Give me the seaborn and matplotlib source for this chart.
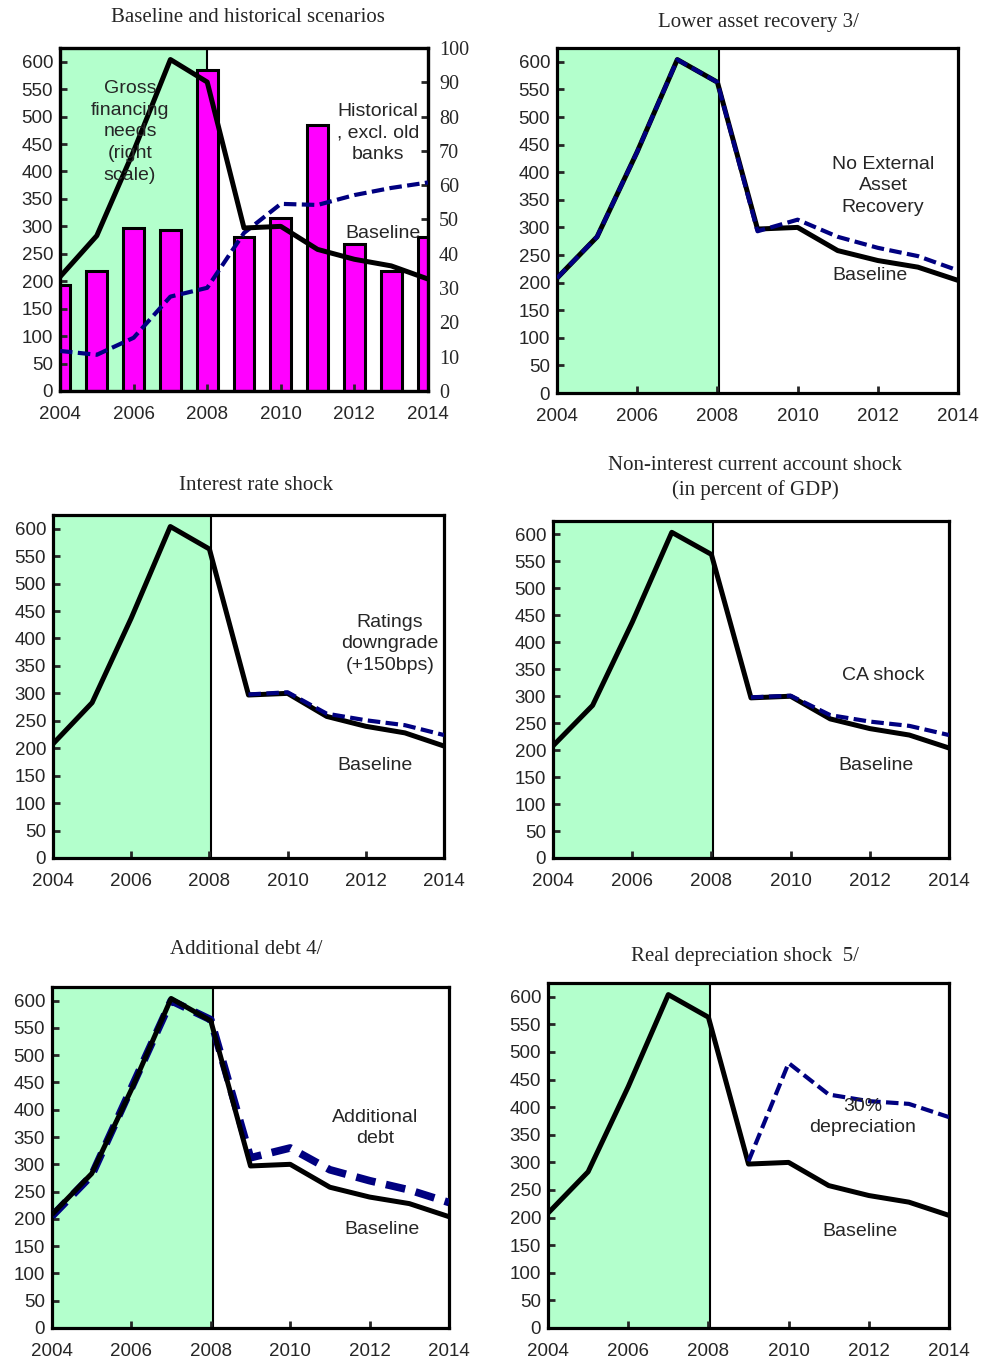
import numpy as np
import pandas as pd
import matplotlib
matplotlib.use("Agg")
import matplotlib.pyplot as plt
import seaborn as sns

# ---------------- data ----------------
years = list(range(2004, 2015))
proj_years = list(range(2009, 2015))
baseline = [208, 283, 437, 604, 563, 297, 300, 258, 240, 228, 204]
historical = [73, 66, 97, 172, 188, 288, 341, 339, 357, 370, 380]
gross_financing = [31, 35, 47.5, 47, 93.5, 45, 50.5, 77.5, 43, 35, 45]
lower_recovery = [208, 283, 437, 604, 563, 293, 314, 283, 263, 248, 222]
interest_shock = [298, 302, 263, 251, 242, 224]
ca_shock = [298, 301, 265, 253, 245, 228]
additional_debt = [205, 280, 440, 600, 565, 312, 330, 290, 270, 253, 230]
depreciation = [302, 480, 423, 411, 406, 382]

titles = ["Baseline and historical scenarios",
          "Lower asset recovery 3/",
          "Interest rate shock",
          "Non-interest current account shock\n(in percent of GDP)",
          "Additional debt 4/",
          "Real depreciation shock  5/"]

# ---------------- style ----------------
sns.set_style("white")
plt.rcParams["font.family"] = ["Liberation Sans", "DejaVu Sans"]
SANS = "Liberation Sans"
SERIF = "Liberation Serif"
GREEN = "#B3FFCC"
NAVY = "#000080"
MAGENTA = "#FF00FF"
W, H = 982, 1363

fig = plt.figure(figsize=(W / 100, H / 100), dpi=100)


def px_axes(l, t, r, b):
    return fig.add_axes([l / W, 1 - b / H, (r - l) / W, (b - t) / H])


def ftext(x, y, s, **kw):
    fig.text(x / W, 1 - y / H, s, ha="center", va="center", **kw)


def style_axes(ax):
    ax.set_xlim(2004, 2014)
    ax.set_ylim(0, 625)
    ax.set_xticks(range(2004, 2015, 2))
    ax.set_yticks(range(0, 601, 50))
    ax.tick_params(axis="both", direction="in", length=5, width=2,
                   labelsize=13.5, left=True, bottom=True, right=False, top=False)
    ax.tick_params(axis="x", pad=11)
    ax.tick_params(axis="y", pad=5)
    for s in ax.spines.values():
        s.set_linewidth(2.3)
        s.set_color("black")
    ax.set_xlabel("")
    ax.set_ylabel("")
    for lab in ax.get_xticklabels() + ax.get_yticklabels():
        lab.set_fontfamily(SANS)


def shade(ax):
    ax.axvspan(2004, 2008.05, facecolor=GREEN, edgecolor="none", zorder=0)
    ax.axvline(2008.05, color="black", lw=1.5, zorder=0.5)


LW = 3.6
DASH = (0, (3, 1.3))

# ---------------- panel 1 ----------------
ax1 = px_axes(60, 48, 428, 391)
ax1r = ax1.twinx()
ax1.set_zorder(ax1r.get_zorder() + 1)
ax1.patch.set_visible(False)
ax1r.axvspan(2004, 2008.0, facecolor=GREEN, edgecolor="none", zorder=0)
ax1r.axvline(2008.0, color="black", lw=1.5, zorder=0.5)
sns.barplot(x=years, y=gross_financing, native_scale=True, width=0.57,
            color=MAGENTA, saturation=1, edgecolor="black", linewidth=2.2,
            ax=ax1r, zorder=2)
ax1r.set_ylim(0, 100)
ax1r.set_yticks(range(0, 101, 10))
ax1r.tick_params(axis="y", direction="in", length=5, width=2, labelsize=14.5, pad=8)
for lab in ax1r.get_yticklabels():
    lab.set_fontfamily(SERIF)
ax1r.set_ylabel("")
for s in ax1r.spines.values():
    s.set_linewidth(2.3)
sns.lineplot(x=years, y=historical, ax=ax1, color=NAVY, lw=3.0, linestyle=DASH, zorder=3)
sns.lineplot(x=years, y=baseline, ax=ax1, color="black", lw=LW, zorder=4)
style_axes(ax1)
ax1r.set_xlim(2004, 2014)

# ---------------- panel 2 ----------------
ax2 = px_axes(557, 48, 958, 393)
shade(ax2)
sns.lineplot(x=years, y=baseline, ax=ax2, color="black", lw=LW, zorder=3)
sns.lineplot(x=years, y=lower_recovery, ax=ax2, color=NAVY, lw=3.0, linestyle=DASH, zorder=4)
style_axes(ax2)

# ---------------- panel 3 ----------------
ax3 = px_axes(53, 515, 444, 858)
shade(ax3)
sns.lineplot(x=years, y=baseline, ax=ax3, color="black", lw=LW, zorder=3)
sns.lineplot(x=proj_years, y=interest_shock, ax=ax3, color=NAVY, lw=3.0, linestyle=DASH, zorder=4)
style_axes(ax3)

# ---------------- panel 4 ----------------
ax4 = px_axes(553, 521, 949, 858)
shade(ax4)
sns.lineplot(x=years, y=baseline, ax=ax4, color="black", lw=LW, zorder=3)
sns.lineplot(x=proj_years, y=ca_shock, ax=ax4, color=NAVY, lw=3.0, linestyle=DASH, zorder=4)
style_axes(ax4)

# ---------------- panel 5 ----------------
ax5 = px_axes(52, 987, 449, 1328)
shade(ax5)
sns.lineplot(x=years, y=additional_debt, ax=ax5, color=NAVY, lw=5.5, linestyle=(0, (2.6, 1.4)), zorder=3)
sns.lineplot(x=years, y=baseline, ax=ax5, color="black", lw=LW, zorder=4)
style_axes(ax5)

# ---------------- panel 6 ----------------
ax6 = px_axes(548, 983, 949, 1328)
shade(ax6)
sns.lineplot(x=years, y=baseline, ax=ax6, color="black", lw=LW, zorder=3)
sns.lineplot(x=proj_years, y=depreciation, ax=ax6, color=NAVY, lw=3.0, linestyle=DASH, zorder=4)
style_axes(ax6)

for ax in [ax1, ax1r, ax2, ax3, ax4, ax5, ax6]:
    if ax.get_legend() is not None:
        ax.get_legend().remove()

# ---------------- titles ----------------
tkw = dict(fontfamily=SERIF, fontsize=15)
ftext(248, 17, titles[0], **tkw)
ftext(758, 23, titles[1], **tkw)
ftext(256, 486, titles[2], **tkw)
ftext(755, 478, titles[3], linespacing=1.3, **tkw)
ftext(246, 949, titles[4], **tkw)
ftext(745, 956, titles[5], **tkw)

# ---------------- annotations ----------------
akw = dict(fontfamily=SANS, fontsize=14, linespacing=1.35)
ftext(130, 132, "Gross\nfinancing\nneeds\n(right\nscale)", **akw)
ftext(378, 133, "Historical\n, excl. old\nbanks", **akw)
ftext(383, 233, "Baseline", **akw)
ftext(883, 186, "No External\nAsset\nRecovery", **akw)
ftext(870, 276, "Baseline", **akw)
ftext(390, 644, "Ratings\ndowngrade\n(+150bps)", **akw)
ftext(375, 765, "Baseline", **akw)
ftext(883, 675, "CA shock", **akw)
ftext(876, 765, "Baseline", **akw)
ftext(375, 1128, "Additional\ndebt", **akw)
ftext(382, 1230, "Baseline", **akw)
ftext(863, 1117, "30%\ndepreciation", **akw)
ftext(860, 1231, "Baseline", **akw)

fig.savefig("out.png", dpi=100)
